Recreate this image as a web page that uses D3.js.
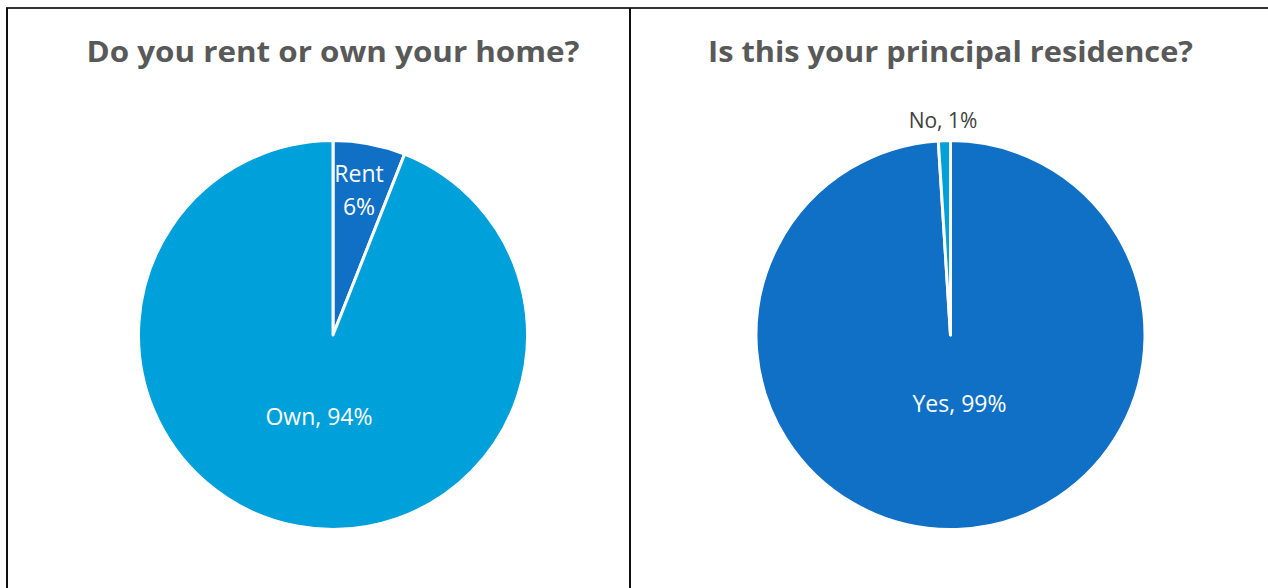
<!DOCTYPE html>
<html>
<head>
<meta charset="utf-8">
<script src="https://cdn.jsdelivr.net/npm/d3@7"></script>
<style>
  html, body { margin: 0; padding: 0; background: #fff; }
  svg { display: block; }
</style>
</head>
<body>
<svg id="chart" width="1268" height="588"></svg>
<script>
// Survey answers, one pie per question
const titles = ["Do you rent or own your home?", "Is this your principal residence?"];

const tenureLabels = ["Rent", "Own"];
const tenureValues = [6, 94];

const residenceLabels = ["Yes", "No"];
const residenceValues = [99, 1];

const svg = d3.select("#chart");
const W = 1268, H = 588;

// Panel frame: top rule, left edge and a divider between the two questions
const frame = svg.append("g").attr("stroke", "#111").attr("stroke-width", 2).attr("fill", "none");
frame.append("line").attr("x1", 6).attr("x2", W).attr("y1", 8).attr("y2", 8).attr("stroke", "#333");
frame.append("line").attr("x1", 7).attr("x2", 7).attr("y1", 8).attr("y2", H);
frame.append("line").attr("x1", 630).attr("x2", 630).attr("y1", 8).attr("y2", H);

const radius = 194.5;
const pie = d3.pie().sort(null).value(d => d.value);
const arc = d3.arc().innerRadius(0).outerRadius(radius);

const titleFont = "'Open Sans', 'Liberation Sans', sans-serif";

function drawPanel(cx, title, labels, values, colors, labelSpec) {
  const g = svg.append("g");

  g.append("text")
    .attr("x", cx).attr("y", 62)
    .attr("text-anchor", "middle")
    .attr("font-family", titleFont)
    .attr("font-weight", 700)
    .attr("font-size", 29)
    .attr("fill", "#595959")
    .attr("textLength", labelSpec.titleWidth)
    .attr("lengthAdjust", "spacingAndGlyphs")
    .text(title);

  const data = labels.map((l, i) => ({ label: l, value: values[i] }));
  const color = d3.scaleOrdinal().domain(labels).range(colors);

  const pg = g.append("g").attr("transform", `translate(${cx},335)`);
  const arcs = pie(data);

  pg.selectAll("path")
    .data(arcs)
    .join("path")
    .attr("d", arc)
    .attr("fill", d => color(d.data.label))
    .attr("stroke", "#fff")
    .attr("stroke-width", 3)
    .attr("stroke-linejoin", "round");

  // Data labels
  labelSpec.items.forEach(spec => {
    const d = arcs.find(a => a.data.label === spec.label);
    const t = pg.append("text")
      .attr("text-anchor", "middle")
      .attr("font-family", titleFont)
      .attr("font-size", spec.size || 23)
      .attr("fill", spec.fill)
      .attr("transform", `translate(${spec.dx},${spec.dy})`);
    spec.lines(d).forEach((line, i) => {
      t.append("tspan").attr("x", 0).attr("dy", i === 0 ? 0 : spec.lineGap).text(line);
    });
  });
}

const fmt = d => `${d.data.value}%`;

drawPanel(333, titles[0], tenureLabels, tenureValues, ["#1070C6", "#00A0DA"], {
  titleWidth: 493,
  items: [
    { label: "Rent", dx: 26, dy: -153, fill: "#fff", lineGap: 33, lines: d => [d.data.label, fmt(d)] },
    { label: "Own", dx: -14, dy: 90, fill: "#fff", lines: d => [`${d.data.label}, ${fmt(d)}`] }
  ]
});

drawPanel(950.5, titles[1], residenceLabels, residenceValues, ["#1070C6", "#00A0DA"], {
  titleWidth: 485,
  items: [
    { label: "No", dx: -7.5, dy: -207, fill: "#404040", size: 21, lines: d => [`${d.data.label}, ${fmt(d)}`] },
    { label: "Yes", dx: 9, dy: 77, fill: "#fff", lines: d => [`${d.data.label}, ${fmt(d)}`] }
  ]
});
</script>
</body>
</html>
